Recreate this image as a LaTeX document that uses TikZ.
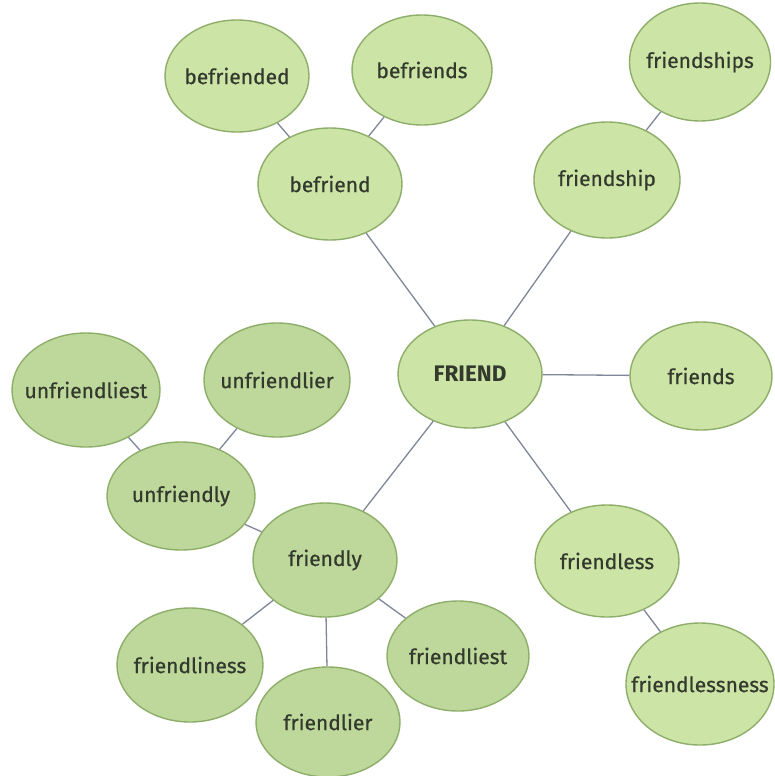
\documentclass[tikz,border=0pt]{standalone}
\usepackage{fontspec}
\setmainfont{Fira Sans}
\newfontfamily\bublabelfont[FakeBold=0.6]{Fira Sans}
\usetikzlibrary{shapes.geometric}
\definecolor{bubfill}{HTML}{CDE4A7}
\definecolor{bubfilldk}{HTML}{BED89C}
\definecolor{bubedge}{HTML}{8DAE68}
\definecolor{txtcol}{HTML}{333A2D}
\definecolor{linkcol}{HTML}{7E8698}
\begin{document}
\begin{tikzpicture}[x=1pt,y=-1pt,
  bubble/.style={ellipse, draw=bubedge, line width=1.4pt, fill=bubfill, inner sep=0pt},
  bubbledk/.style={bubble, fill=bubfilldk},
  txt/.style={text=txtcol, font=\bublabelfont\fontsize{21}{24}\selectfont, inner sep=0pt},
  txtb/.style={txt, font=\fontsize{22.5}{26}\selectfont\bfseries},
  link/.style={draw=linkcol, line width=1.3pt}]
\useasboundingbox[fill=white] (0,0) rectangle (774,776);

\node[bubble, minimum width=144pt, minimum height=112pt, label={[txt]center:befriended}] (befriended) at (237,76) {};
\node[bubble, minimum width=140pt, minimum height=110pt, label={[txt]center:befriends}] (befriends) at (422,70) {};
\node[bubble, minimum width=144pt, minimum height=112pt, label={[txt]center:befriend}] (befriend) at (330,184) {};
\node[bubble, minimum width=141pt, minimum height=118pt, label={[txt]center:friendships}] (friendships) at (700,62) {};
\node[bubble, minimum width=146pt, minimum height=116pt, label={[txt]center:friendship}] (friendship) at (607,180) {};
\node[bubble, minimum width=144pt, minimum height=108pt, label={[txtb]center:FRIEND}] (FRIEND) at (470,374) {};
\node[bubble, minimum width=142pt, minimum height=108pt, label={[txt]center:friends}] (friends) at (701,376) {};
\node[bubbledk, minimum width=148pt, minimum height=114pt, label={[txt]center:unfriendliest}] (unfriendliest) at (86,390) {};
\node[bubbledk, minimum width=146pt, minimum height=114pt, label={[txt]center:unfriendlier}] (unfriendlier) at (277,380) {};
\node[bubbledk, minimum width=148pt, minimum height=108pt, label={[txt]center:unfriendly}] (unfriendly) at (181,496) {};
\node[bubbledk, minimum width=144pt, minimum height=114pt, label={[txt]center:friendly}] (friendly) at (325,560) {};
\node[bubble, minimum width=144pt, minimum height=112pt, label={[txt]center:friendless}] (friendless) at (607,561) {};
\node[bubbledk, minimum width=146pt, minimum height=114pt, label={[txt]center:friendliness}] (friendliness) at (190,665) {};
\node[bubbledk, minimum width=142pt, minimum height=110pt, label={[txt]center:friendliest}] (friendliest) at (458,656) {};
\node[bubbledk, minimum width=144pt, minimum height=110pt, label={[txt]center:friendlier}] (friendlier) at (328,722) {};
\node[bubble, minimum width=148pt, minimum height=122pt, label={[txt]center:friendlessness}] (friendlessness) at (700,684) {};

\draw[link] (befriended) -- (befriend);
\draw[link] (befriends) -- (befriend);
\draw[link] (befriend) -- (FRIEND);
\draw[link] (friendships) -- (friendship);
\draw[link] (friendship) -- (FRIEND);
\draw[link] (FRIEND) -- (friends);
\draw[link] (FRIEND) -- (friendly);
\draw[link] (FRIEND) -- (friendless);
\draw[link] (friendless) -- (friendlessness);
\draw[link] (unfriendliest) -- (unfriendly);
\draw[link] (unfriendlier) -- (unfriendly);
\draw[link] (unfriendly) -- (friendly);
\draw[link] (friendly) -- (friendliness);
\draw[link] (friendly) -- (friendlier);
\draw[link] (friendly) -- (friendliest);
\end{tikzpicture}
\end{document}
